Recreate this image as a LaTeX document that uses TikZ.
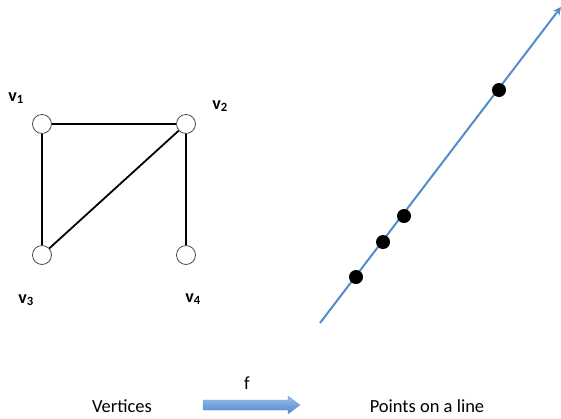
\documentclass[tikz,border=0pt]{standalone}
\usepackage{fontspec}
\setmainfont{Carlito}
\usetikzlibrary{arrows.meta}
\definecolor{lineblue}{RGB}{84,139,201}
\definecolor{lightblue}{RGB}{150,190,235}
\definecolor{darkblue}{RGB}{80,135,205}
\tikzset{
  vert/.style={circle,draw=black!70,fill=white,line width=0.8pt,minimum size=19pt,inner sep=0pt},
  dot/.style={circle,fill=black,minimum size=14pt,inner sep=0pt},
  edge/.style={line width=1.8pt},
  vlabel/.style={font=\fontsize{18}{20}\selectfont\bfseries,inner sep=0pt},
  caption/.style={font=\fontsize{18.5}{20}\selectfont,inner sep=0pt}
}
\begin{document}
\begin{tikzpicture}[x=1pt,y=-1pt]
\useasboundingbox (0,0) rectangle (561,418);
% graph
\node[vert] (v1) at (42,124) {};
\node[vert] (v2) at (186,124) {};
\node[vert] (v3) at (42,255) {};
\node[vert] (v4) at (186,255) {};
\draw[edge] (v1) -- (v2);
\draw[edge] (v1) -- (v3);
\draw[edge] (v2) -- (v3);
\draw[edge] (v2) -- (v4);
\node[vlabel] (l1) at (16,98) {v$_{\mathbf 1}$};
\node[vlabel] (l2) at (220,106) {v$_{\mathbf 2}$};
\node[vlabel] (l3) at (26,300) {v$_{\mathbf 3}$};
\node[vlabel] (l4) at (193,299) {v$_{\mathbf 4}$};
% line
\coordinate (ls) at (320,323);
\coordinate (le) at (561,7);
\draw[lineblue,line width=2pt,-{Stealth[length=8pt,width=8pt]}] (ls) -- (le);
\node[dot] (d1) at (499,90) {};
\node[dot] (d2) at (404,216) {};
\node[dot] (d3) at (383,242) {};
\node[dot] (d4) at (356,277) {};
% bottom
\node[caption] (vt) at (122,406) {Vertices};
\node[caption] (pt) at (427,406) {Points on a line};
\node[caption] (f) at (247,383) {f};
\shade[top color=lightblue,bottom color=darkblue,draw=lightblue!80!black,line width=0.3pt]
  (203,400) -- (288,400) -- (288,396) -- (300,405) -- (288,414) -- (288,410) -- (203,410) -- cycle;
\end{tikzpicture}
\end{document}
